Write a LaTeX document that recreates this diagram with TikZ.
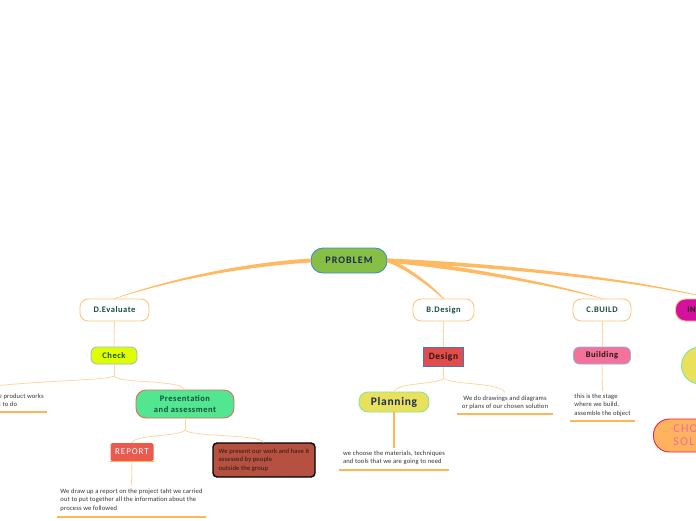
\documentclass[tikz,border=0pt]{standalone}
\usepackage{fontspec}
\setmainfont{Carlito}
\newfontfamily\lsa[LetterSpace=6]{Carlito}
\newfontfamily\lsb[LetterSpace=10]{Carlito}
\newfontfamily\lsc[LetterSpace=2]{Carlito}
\usetikzlibrary{calc}
\definecolor{brOrange}{HTML}{FFB961}
\definecolor{subOrange}{HTML}{FFD6A0}
\definecolor{ulOrange}{HTML}{FFB655}
\definecolor{topicBorder}{HTML}{FFC67E}
\definecolor{labelGreen}{HTML}{1B4D3E}
\definecolor{probFill}{HTML}{87BE45}
\definecolor{probBorder}{HTML}{3C8DD0}
\definecolor{probText}{HTML}{1A2B4C}
\definecolor{checkFill}{HTML}{DFFF00}
\definecolor{lightBlue}{HTML}{93B6DC}
\definecolor{presFill}{HTML}{52E691}
\definecolor{presBorder}{HTML}{DF6A62}
\definecolor{reportFill}{HTML}{EB5A4E}
\definecolor{boxRed}{HTML}{B65141}
\definecolor{designFill}{HTML}{E14C4C}
\definecolor{designBorder}{HTML}{3E7BBE}
\definecolor{planFill}{HTML}{E9E15B}
\definecolor{planBorder}{HTML}{86E495}
\definecolor{buildFill}{HTML}{F2729C}
\definecolor{invFill}{HTML}{D4119E}
\definecolor{chosenFill}{HTML}{FFB35E}
\definecolor{chosenBorder}{HTML}{E91F4D}
\definecolor{chosenText}{HTML}{F06BA5}
\definecolor{smallGray}{HTML}{333333}
\definecolor{darkText}{HTML}{2A1612}
\definecolor{navyText}{HTML}{1B2A5C}
\begin{document}
\begin{tikzpicture}[x=1pt,y=-1pt,
  branch/.style={fill=brOrange},
  subline/.style={draw=subOrange, line width=0.8pt},
  uline/.style={draw=ulOrange, line width=1.3pt},
  lbl/.style={font=\lsa\bfseries\fontsize{8.5}{10}\selectfont, text=labelGreen, inner sep=0pt},
  topic/.style={lbl, rounded corners=8pt, draw=topicBorder, fill=white, line width=0.9pt, minimum height=22pt},
  smalltxt/.style={font=\lsc\fontsize{6.6}{8.7}\selectfont, text=smallGray, inner xsep=0pt, inner ysep=3pt}
]
\useasboundingbox (0,0) rectangle (696,520);

% main nodes
\node[font=\lsb\bfseries\fontsize{10}{12}\selectfont, text=probText, fill=probFill, draw=probBorder, line width=0.9pt, rounded corners=12pt, minimum width=76pt, minimum height=25pt, inner sep=0pt] (prob) at (349,260.5) {PROBLEM};

\node[topic, minimum width=69pt] (deval) at (114.5,310) {D.Evaluate};
\node[topic, minimum width=61pt] (bdesign) at (443.5,310) {B.Design};
\node[topic, minimum width=58pt] (cbuild) at (602,310) {C.BUILD};
\node[lbl, text=darkText, fill=invFill, draw=topicBorder, line width=0.9pt, rounded corners=10pt, minimum width=70pt, minimum height=22pt, text width=46pt, align=left, inner xsep=12pt, anchor=west] (inv) at (675,310) {IN};

% branches
\fill[branch] ([yshift=2pt]prob.west) .. controls (240,263) and (170,279) .. ([xshift=-0.6pt]deval.north)
  -- ([xshift=0.6pt]deval.north) .. controls (171,280.5) and (240,267) .. ([yshift=-2pt]prob.west) -- cycle;
\fill[branch] ([yshift=2pt]prob.east) .. controls (405,264) and (431,284) .. ([xshift=0.6pt]bdesign.north)
  -- ([xshift=-0.6pt]bdesign.north) .. controls (429,286) and (403,267) .. ([yshift=-2pt]prob.east) -- cycle;
\fill[branch] ([yshift=2pt]prob.east) .. controls (470,266) and (561,285) .. ([xshift=0.6pt]cbuild.north)
  -- ([xshift=-0.6pt]cbuild.north) .. controls (559,287) and (468,270) .. ([yshift=-2pt]prob.east) -- cycle;
\fill[branch] ([yshift=2pt]prob.east) .. controls (500,263) and (641,279) .. ([xshift=0.6pt]inv.north)
  -- ([xshift=-0.6pt]inv.north) .. controls (639,281) and (500,267) .. ([yshift=-2pt]prob.east) -- cycle;

% D.Evaluate subtree
\node[lbl, rounded corners=6pt, fill=checkFill, draw=lightBlue, line width=0.8pt, minimum width=46pt, minimum height=17pt] (check) at (114,355.5) {Check};
\node[lbl, align=center, font=\lsa\bfseries\fontsize{8.5}{11.5}\selectfont, rounded corners=10pt, fill=presFill, draw=presBorder, line width=0.9pt, minimum width=98pt, minimum height=28pt] (pres) at (185,404) {Presentation\\and assessment};
\node[smalltxt, align=left, anchor=north west] (ltext) at (-1.5,390.5) {e product works\\t to do};
\draw[uline] (-5,412) -- (47,412);
\node[fill=reportFill, rounded corners=1.5pt, minimum width=43pt, minimum height=18pt, inner sep=0pt, text=white, font=\lsb\fontsize{9}{10}\selectfont] (report) at (132,452) {REPORT};
\node[smalltxt, text=darkText, align=left, rounded corners=4pt, fill=boxRed, draw=black, line width=1.4pt, minimum width=102pt, minimum height=34pt] (present) at (264,460) {We present our work and have it\\assessed by people\\outside the group};
\node[smalltxt, align=left, minimum width=149pt, anchor=north] (rtext) at (131.5,485.5) {We draw up a report on the project taht we carried\\out to put together all the information about the\\process we followed};
\draw[uline] (57,517) -- (206,517);

\coordinate (cj) at (114,376);
\coordinate (lend) at (-40,390);
\coordinate (pj) at (185,430);
\draw[subline] (deval.south) -- (check.north);
\draw[subline] (check.south) -- (cj);
\draw[subline] (cj) .. controls (104,381) and (30,380) .. (lend);
\draw[subline] (cj) .. controls (120,384) and (178,379) .. (pres.north);
\draw[subline] (pres.south) -- (pj);
\draw[subline] (pj) .. controls (180,437) and (135,434) .. (report.north);
\draw[subline] (pj) .. controls (190,437) and (258,434) .. (present.north);
\draw[subline] (report.south) -- (rtext.north);
\draw[uline] (report.south west) -- (report.south east);

% B.Design subtree
\node[lbl, text=darkText, font=\lsa\bfseries\fontsize{9.5}{11}\selectfont, fill=designFill, draw=designBorder, line width=1.5pt, minimum width=40pt, minimum height=19pt] (design) at (443.5,357) {Design};
\node[lbl, text=navyText, font=\lsa\bfseries\fontsize{11.5}{13}\selectfont, rounded corners=9pt, fill=planFill, draw=planBorder, line width=0.9pt, minimum width=70pt, minimum height=20pt] (planning) at (394,402) {Planning};
\node[smalltxt, align=center, minimum width=96pt, anchor=north] (dtext) at (505,392.5) {We do drawings and diagrams\\or plans of our chosen solution};
\draw[uline] (457,414) -- (553,414);
\node[smalltxt, align=left, minimum width=110pt, anchor=north] (ptext) at (394,447.5) {we choose the materials, techniques\\and tools that we are going to need};
\draw[uline] (339,470) -- (449,470);

\coordinate (dj) at (443.5,378);
\draw[subline] (bdesign.south) -- (design.north);
\draw[subline] (design.south) -- (dj);
\draw[subline] (dj) .. controls (438,385) and (398,382) .. (planning.north);
\draw[subline] (dj) .. controls (449,385) and (500,382) .. (dtext.north);
\draw[uline, line width=1.8pt] (planning.south) -- (ptext.north);

% C.BUILD subtree
\node[lbl, text=darkText, rounded corners=6pt, fill=buildFill, draw=lightBlue, line width=0.8pt, minimum width=57pt, minimum height=17pt] (building) at (602,355.5) {Building};
\node[smalltxt, align=left, minimum width=65pt, anchor=north] (btext) at (602.5,390.5) {this is the stage\\where we build,\\assemble the object};
\draw[uline] (570,421) -- (635,421);
\draw[subline] (cbuild.south) -- (building.north);
\draw[subline] (building.south) -- (btext.north);

% right edge
\node[circle, fill=planFill, draw=planBorder, line width=0.9pt, minimum size=37pt, inner sep=0pt] (dot) at (700,365.5) {};
\node[font=\lsb\fontsize{12}{13}\selectfont, text=chosenText, fill=chosenFill, draw=chosenBorder, line width=0.9pt, rounded corners=16pt, minimum height=33pt, text width=60pt, align=left, inner xsep=20pt, anchor=west] (chosen) at (653,435.5) {CHOS\\SOLU};
\end{tikzpicture}
\end{document}
